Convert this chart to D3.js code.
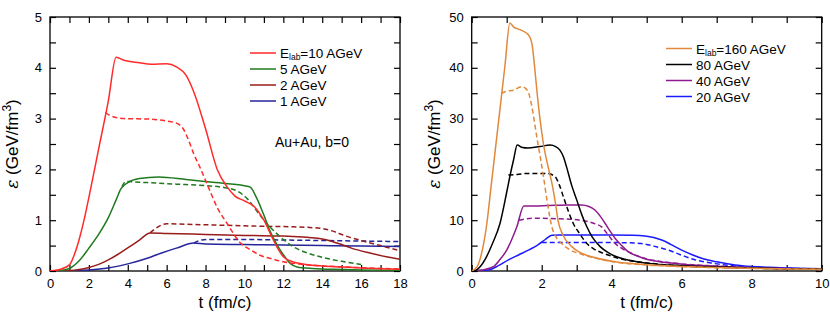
<!DOCTYPE html>
<html>
<head>
<meta charset="utf-8">
<script src="https://cdn.jsdelivr.net/npm/d3@7"></script>
<style>
  body { margin: 0; background: #fff; }
  svg { font-family: "Liberation Sans", Arial, sans-serif; }
</style>
</head>
<body>
<svg id="chart" width="830" height="327"></svg>
<script>
// ---- left panel data: energy density vs time, solid and dashed ----
const leftLabels = ["=10 AGeV", "5 AGeV", "2 AGeV", "1 AGeV"];
const leftColors = ["#ff2a2a", "#1f7a1f", "#991c1c", "#24249c"];

const e10Solid = [[0,0],[0.5,0.03],[1,0.12],[1.25,0.32],[1.5,0.62],[1.75,1.0],[2,1.45],[2.5,2.4],[3,3.35],[3.4,4.21],
  [3.8,4.15],[4.6,4.1],[5.2,4.07],[6,4.08],[6.5,4.02],[7,3.85],[7.4,3.52],[8,2.8],[8.6,2.0],[9.1,1.66],[9.5,1.48],
  [10,1.38],[10.5,1.27],[11,1.0],[11.5,0.6],[12,0.28],[12.5,0.18],[13,0.14],[14,0.1],[15,0.08],[16,0.06],[17,0.045],[18,0.035]];
const e10Dash = [[2.85,3.12],[3.1,3.06],[3.8,3.0],[5.1,2.99],[6,2.95],[6.5,2.91],[6.85,2.8],[7.1,2.6],[7.4,2.3],[7.7,2.05],
  [8.2,1.6],[8.6,1.25],[9.1,0.94],[9.8,0.55],[10.3,0.42],[10.8,0.31],[11.5,0.23],[12,0.18],[13,0.13],[14,0.1],[15,0.08],
  [16,0.065],[17,0.05],[18,0.04]];
const e5Solid = [[0,0],[0.5,0.01],[1,0.05],[1.5,0.2],[2,0.45],[2.5,0.72],[3,1.05],[3.4,1.4],[3.65,1.62],[4,1.74],[4.6,1.82],
  [5.6,1.85],[7,1.8],[8.5,1.74],[10,1.68],[10.3,1.65],[10.6,1.46],[11,1.1],[11.3,0.8],[11.7,0.5],[12,0.32],[12.35,0.15],
  [12.7,0.08],[13.5,0.05],[15,0.03],[16,0.02],[18,0.01]];
const e5Dash = [[3.7,1.66],[3.9,1.76],[5,1.74],[6.5,1.71],[8,1.68],[9,1.64],[9.6,1.58],[10.2,1.4],[10.6,1.2],[11,1.0],
  [11.65,0.74],[12.5,0.48],[13.2,0.36],[13.9,0.28],[15,0.19],[16,0.13]];
const e2Solid = [[0,0],[1,0.01],[1.5,0.03],[2,0.07],[2.5,0.13],[3,0.22],[3.5,0.33],[4.1,0.48],[4.6,0.61],[5.15,0.75],
  [6,0.74],[8,0.72],[10,0.7],[12,0.69],[13,0.67],[14,0.63],[15,0.52],[15.5,0.45],[16.5,0.35],[17.3,0.28],[18,0.23]];
const e2Dash = [[5.15,0.75],[5.6,0.88],[6,0.93],[7,0.92],[9,0.9],[11,0.88],[12.5,0.87],[13.9,0.84],[14.5,0.79],
  [15.2,0.69],[16,0.6],[17,0.5],[18,0.4]];
const e1Solid = [[0,0],[1.5,0.01],[2,0.02],[3,0.06],[4.1,0.15],[5,0.25],[5.7,0.35],[6.5,0.45],[7.4,0.55],[8,0.53],
  [10,0.52],[12,0.51],[14,0.5],[16,0.49],[18,0.48]];
const e1Dash = [[7.4,0.55],[7.8,0.61],[8.2,0.62],[10,0.62],[12,0.61],[14,0.6],[16,0.59],[18,0.58]];

// ---- right panel data ----
const rightLabels = ["=160 AGeV", "80 AGeV", "40 AGeV", "20 AGeV"];
const rightColors = ["#e0883c", "#000000", "#8e1a8e", "#1a1aff"];

const e160Solid = [[0,0],[0.15,0.8],[0.3,4],[0.43,9.2],[0.55,16.4],[0.71,26],[0.84,33.8],[0.95,40.4],[1.09,48.8],[1.2,48],
  [1.38,47.5],[1.62,46.5],[1.72,44.8],[1.8,40],[1.87,35],[1.95,30],[2.05,25],[2.2,20],[2.3,17],[2.4,13],[2.47,9.8],
  [2.6,7.2],[2.86,4.8],[3.1,3.6],[3.43,2.8],[4.1,1.8],[5,1.25],[6,0.9],[7,0.68],[8,0.52],[9,0.4],[10,0.32]];
const e160Dash = [[0.84,35.0],[1.0,35.4],[1.2,35.6],[1.43,36.3],[1.6,35.5],[1.7,33],[1.86,26.4],[2.05,18.6],[2.15,14],
  [2.29,8.7],[2.4,6.8],[2.57,5.4],[2.8,4.2],[3.14,3.3],[3.5,2.6],[4.1,1.75],[5,1.2],[6,0.86],[7,0.65],[8,0.5],[9,0.39],[10,0.31]];
const e80Solid = [[0,0],[0.1,0.1],[0.24,0.85],[0.4,2.5],[0.6,5.5],[0.81,9.4],[1.0,15.5],[1.09,18.6],[1.2,22],[1.3,24.8],
  [1.45,24.3],[1.6,24.2],[1.95,24.5],[2.24,24.8],[2.4,24.5],[2.52,23.8],[2.62,22.5],[2.71,20.5],[2.85,17],[3.0,14],
  [3.15,11],[3.29,8.7],[3.45,6.6],[3.67,4.8],[3.9,3.6],[4.14,2.8],[4.5,2.1],[5,1.55],[6,1.05],[7,0.8],[8,0.6],[9,0.45],[10,0.35]];
const e80Dash = [[1.05,18.9],[1.3,19.0],[1.57,19.2],[2.14,19.2],[2.38,18.6],[2.5,17],[2.62,14.6],[2.75,12],[2.9,9.4],
  [3.1,7.2],[3.29,5.4],[3.5,4.3],[3.76,3.5],[4.2,2.5],[5,1.6],[6,1.0],[7,0.75],[8,0.57],[9,0.43],[10,0.33]];
const e40Solid = [[0,0],[0.3,0.2],[0.62,0.85],[0.8,2.2],[1.0,4.1],[1.15,6.3],[1.29,8.7],[1.49,12.8],[1.7,12.8],[2.2,12.9],
  [2.8,13.0],[3.14,13.0],[3.35,12.7],[3.52,12],[3.65,11],[3.81,9.4],[3.95,7.9],[4.1,6.4],[4.3,4.9],[4.47,3.8],[4.75,2.9],
  [5.05,2.2],[5.5,1.7],[6,1.35],[7,0.95],[8,0.65],[9,0.48],[10,0.36]];
const e40Dash = [[1.35,10.0],[1.5,10.2],[1.86,10.4],[2.4,10.3],[2.81,10.2],[3.1,10.0],[3.33,9.7],[3.52,9.3],[3.71,8.7],
  [3.9,7.1],[4.1,5.4],[4.3,4.4],[4.57,3.5],[4.8,2.8],[5.05,2.3],[5.5,1.8],[6,1.4],[7,0.95],[8,0.65],[9,0.47],[10,0.35]];
const e20Solid = [[0,0],[0.47,0.2],[0.75,1.0],[1.05,2.2],[1.35,3.2],[1.62,4.1],[1.9,5.2],[2.1,6.2],[2.29,7.05],[2.5,7.1],
  [3,7.1],[4,7.1],[4.6,7.05],[4.95,6.9],[5.2,6.6],[5.43,6.1],[5.7,5.2],[6.0,4.1],[6.3,3.2],[6.57,2.5],[7.0,1.8],[7.52,1.2],
  [8,0.9],[8.5,0.72],[9,0.6],[9.5,0.5],[10,0.42]];
const e20Dash = [[2.0,5.6],[2.3,5.6],[3,5.6],[4,5.6],[4.5,5.55],[4.86,5.4],[5.2,4.9],[5.62,4.1],[6.0,3.1],[6.38,2.2],
  [6.9,1.5],[7.52,1.0],[8,0.8],[9,0.55],[10,0.42]];

const svg = d3.select("#chart");

function panel(opts) {
  const { left, right, top, bottom, xMax, yMax, xStep, yStep, xLabStep, yLabStep, id } = opts;
  const x = d3.scaleLinear().domain([0, xMax]).range([left, right]);
  const y = d3.scaleLinear().domain([0, yMax]).range([bottom, top]);
  const g = svg.append("g");

  g.append("clipPath").attr("id", id)
    .append("rect").attr("x", left).attr("y", top).attr("width", right - left).attr("height", bottom - top);

  const xt = d3.range(0, xMax + 1e-9, xStep);
  const yt = d3.range(0, yMax + 1e-9, yStep);
  const fmtX = d => (Math.abs(d / xLabStep - Math.round(d / xLabStep)) < 1e-6 ? d : "");
  const fmtY = d => (Math.abs(d / yLabStep - Math.round(d / yLabStep)) < 1e-6 ? d : "");

  const styleAxis = sel => {
    sel.select(".domain").remove();
    sel.selectAll("line").attr("stroke", "#000").attr("stroke-width", 1.2);
    sel.selectAll("text").attr("font-size", 13).attr("fill", "#000")
      .attr("font-family", "'Liberation Sans', Arial, sans-serif");
  };

  g.append("g").attr("transform", `translate(0,${bottom})`)
    .call(d3.axisBottom(x).tickValues(xt).tickSizeInner(-6).tickSizeOuter(0).tickPadding(8).tickFormat(fmtX))
    .call(styleAxis);
  g.append("g").attr("transform", `translate(0,${top})`)
    .call(d3.axisTop(x).tickValues(xt).tickSizeInner(-6).tickSizeOuter(0).tickFormat(""))
    .call(styleAxis);
  g.append("g").attr("transform", `translate(${left},0)`)
    .call(d3.axisLeft(y).tickValues(yt).tickSizeInner(-6).tickSizeOuter(0).tickPadding(8).tickFormat(fmtY))
    .call(styleAxis);
  g.append("g").attr("transform", `translate(${right},0)`)
    .call(d3.axisRight(y).tickValues(yt).tickSizeInner(-6).tickSizeOuter(0).tickFormat(""))
    .call(styleAxis);

  g.append("rect").attr("x", left).attr("y", top).attr("width", right - left).attr("height", bottom - top)
    .attr("fill", "none").attr("stroke", "#000").attr("stroke-width", 1.3);

  const line = d3.line().x(d => x(d[0])).y(d => y(d[1])).curve(d3.curveMonotoneX);
  const curves = g.append("g").attr("clip-path", `url(#${id})`);
  opts.series.forEach(s => {
    curves.append("path").datum(s.data)
      .attr("d", line).attr("fill", "none").attr("stroke", s.color)
      .attr("stroke-width", 1.5).attr("stroke-dasharray", s.dash ? "5,3" : null);
  });

  // axis titles
  g.append("text").attr("x", (left + right) / 2).attr("y", 308).attr("text-anchor", "middle")
    .attr("font-size", 17).text("t (fm/c)");
  const yl = g.append("text")
    .attr("transform", `translate(${left - 32},${(top + bottom) / 2}) rotate(-90)`)
    .attr("text-anchor", "middle").attr("font-size", 17);
  yl.append("tspan").attr("font-family", "'DejaVu Serif', serif").attr("font-style", "italic").text("ε");
  yl.append("tspan").text(" (GeV/fm");
  yl.append("tspan").attr("font-size", 12).attr("dy", -7).text("3");
  yl.append("tspan").attr("dy", 7).text(")");

  // legend
  const lg = g.append("g");
  opts.legendLabels.forEach((lab, i) => {
    const ly = opts.legendY + i * opts.legendStep;
    lg.append("line").attr("x1", opts.legendX).attr("x2", opts.legendX + 26).attr("y1", ly).attr("y2", ly)
      .attr("stroke", opts.legendColors[i]).attr("stroke-width", 1.5);
    const t = lg.append("text").attr("x", opts.legendX + 30).attr("y", ly + 5).attr("font-size", 13.5);
    if (i === 0) {
      t.append("tspan").text("E");
      t.append("tspan").attr("font-size", 8.5).attr("dy", 2).text("lab");
      t.append("tspan").attr("dy", -2).text(lab);
    } else {
      t.text(lab);
    }
  });
  return g;
}

panel({
  id: "clipL", left: 50, right: 400, top: 17, bottom: 271, xMax: 18, yMax: 5,
  xStep: 1, yStep: 0.5, xLabStep: 2, yLabStep: 1,
  legendX: 250, legendY: 53, legendStep: 16, legendLabels: leftLabels, legendColors: leftColors,
  series: [
    { data: e1Solid, color: leftColors[3] }, { data: e1Dash, color: leftColors[3], dash: true },
    { data: e2Solid, color: leftColors[2] }, { data: e2Dash, color: leftColors[2], dash: true },
    { data: e5Solid, color: leftColors[1] }, { data: e5Dash, color: leftColors[1], dash: true },
    { data: e10Solid, color: leftColors[0] }, { data: e10Dash, color: leftColors[0], dash: true }
  ]
});
svg.append("text").attr("x", 275).attr("y", 147).attr("font-size", 14).text("Au+Au, b=0");

panel({
  id: "clipR", left: 471.7, right: 821.7, top: 17, bottom: 271, xMax: 10, yMax: 50,
  xStep: 1, yStep: 5, xLabStep: 2, yLabStep: 10,
  legendX: 666, legendY: 48.5, legendStep: 16, legendLabels: rightLabels, legendColors: rightColors,
  series: [
    { data: e20Solid, color: rightColors[3] }, { data: e20Dash, color: rightColors[3], dash: true },
    { data: e40Solid, color: rightColors[2] }, { data: e40Dash, color: rightColors[2], dash: true },
    { data: e80Solid, color: rightColors[1] }, { data: e80Dash, color: rightColors[1], dash: true },
    { data: e160Solid, color: rightColors[0] }, { data: e160Dash, color: rightColors[0], dash: true }
  ]
});
</script>
</body>
</html>
